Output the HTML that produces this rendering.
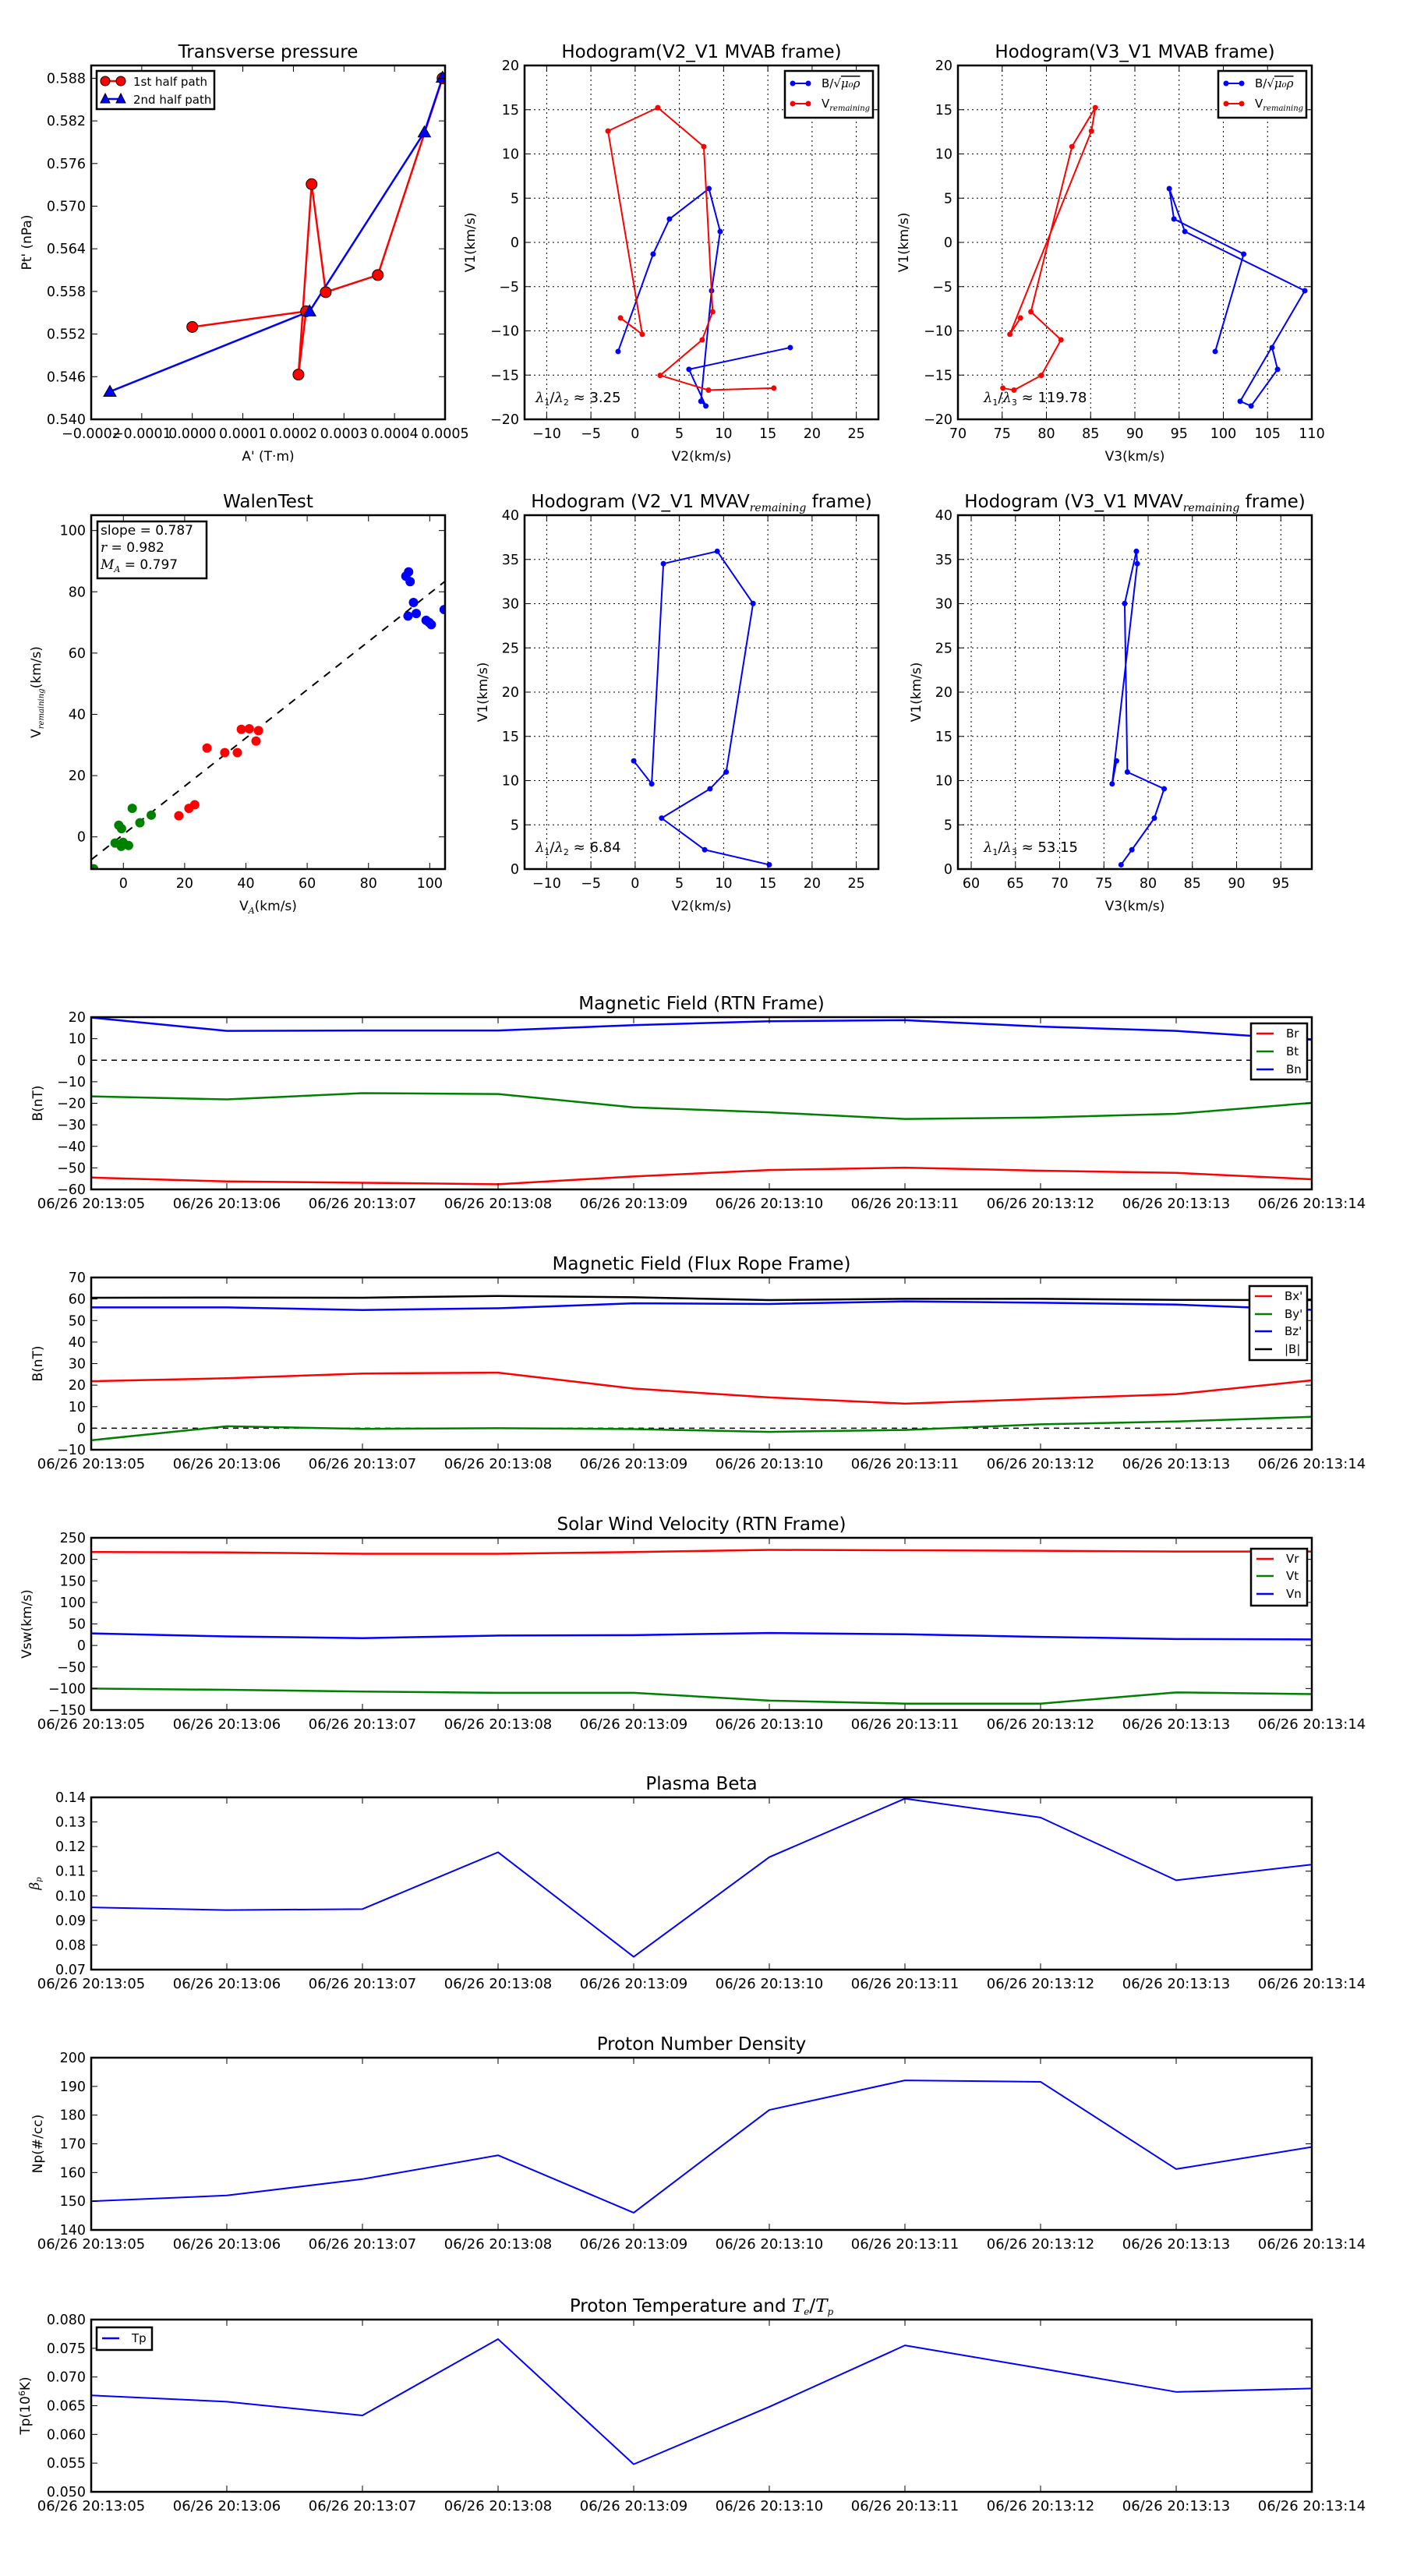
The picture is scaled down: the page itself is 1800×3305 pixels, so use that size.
<!DOCTYPE html>
<html><head><meta charset="utf-8"><style>
html,body{margin:0;padding:0;background:#fff;}
svg text{font-family:"DejaVu Sans","Liberation Sans",sans-serif;}
.m{font-family:"DejaVu Serif","Liberation Serif",serif;font-style:italic;}
</style></head>
<body>
<svg id="fig" xmlns="http://www.w3.org/2000/svg" width="1800" height="3300" viewBox="0 0 1800 3300">
<rect x="0" y="0" width="1800" height="3300" fill="#fff"/>
</svg>
<script>
// ---------- data ----------
const tpRedX = [0.0000, 0.000225, 0.000210, 0.000236, 0.000264, 0.000367, 0.000495];
const tpRedY = [0.5530, 0.5552, 0.5463, 0.5731, 0.5579, 0.5603, 0.5880];
const tpBlueX = [-0.000163, 0.000232, 0.000459, 0.000495];
const tpBlueY = [0.5439, 0.5552, 0.5804, 0.5881];

const bV1 = [-12.33, -1.32, 2.64, 6.08, 1.23, -5.46, -17.96, -18.49, -14.35, -11.89];
const bV2 = [-1.93, 2.03, 3.88, 8.34, 9.61, 8.64, 7.43, 7.99, 6.08, 17.53];
const bV3 = [99.08, 102.3, 94.42, 93.89, 95.65, 109.21, 101.9, 103.14, 106.13, 105.51];
const rV1 = [-8.54, -10.39, 12.59, 15.23, 10.83, -7.84, -11.01, -15.03, -16.70, -16.47];
const rV2 = [-1.66, 0.80, -3.07, 2.56, 7.76, 8.76, 7.58, 2.83, 8.29, 15.68];
const rV3 = [77.07, 75.87, 85.09, 85.53, 82.89, 78.25, 81.65, 79.42, 76.34, 75.08];

const mV1 = [12.23, 9.63, 34.52, 35.92, 30.02, 10.97, 9.07, 5.76, 2.18, 0.49];
const mV2 = [-0.16, 1.87, 3.19, 9.28, 13.33, 10.29, 8.46, 2.99, 7.86, 15.16];
const mV3 = [76.43, 75.93, 78.77, 78.67, 77.35, 77.65, 81.81, 80.70, 78.16, 76.94];

const walGreenX = [-9.7, -2.7, -0.7, -0.1, 1.7, -1.5, -0.6, 5.4, 9.1, 2.9];
const walGreenY = [-10.4, -2.0, -3.1, -1.8, -2.8, 3.8, 2.7, 4.6, 7.1, 9.3];
const walRedX = [18.1, 21.4, 23.3, 27.3, 33.1, 37.2, 38.5, 41.1, 43.3, 44.1];
const walRedY = [6.9, 9.3, 10.5, 29.0, 27.5, 27.5, 35.1, 35.3, 31.3, 34.7];
const walBlueX = [92.2, 93.1, 93.6, 94.7, 92.9, 95.6, 98.8, 99.8, 100.5, 104.7];
const walBlueY = [85.1, 86.5, 83.3, 76.5, 72.1, 72.9, 70.7, 70.0, 69.3, 74.2];
const walSlope = 0.787;
const walIntercept = 0.8;

const timeLabels = ["06/26 20:13:05","06/26 20:13:06","06/26 20:13:07","06/26 20:13:08","06/26 20:13:09","06/26 20:13:10","06/26 20:13:11","06/26 20:13:12","06/26 20:13:13","06/26 20:13:14"];
const Br = [-54.5, -56.3, -56.9, -57.6, -54.0, -51.0, -49.9, -51.3, -52.3, -55.3];
const Bt = [-16.8, -18.2, -15.3, -15.7, -21.9, -24.2, -27.3, -26.6, -24.9, -19.8];
const Bn = [19.8, 13.6, 13.8, 13.8, 16.3, 18.1, 18.6, 15.6, 13.6, 9.5];
const Bx = [21.8, 23.2, 25.4, 25.8, 18.4, 14.3, 11.4, 13.6, 15.8, 22.2];
const By = [-5.6, 0.9, -0.3, 0.0, -0.4, -1.7, -0.8, 1.8, 3.1, 5.3];
const Bz = [56.1, 56.1, 54.9, 55.7, 58.0, 57.7, 58.9, 58.3, 57.4, 55.0];
const Bmag = [60.6, 60.7, 60.6, 61.4, 60.8, 59.5, 60.1, 60.1, 59.6, 59.5];
const Vr = [217, 216, 213, 213, 217, 222, 221, 220, 218, 218];
const Vt = [-100, -103, -107, -110, -110, -128, -135, -135, -109, -113];
const Vn = [28, 21, 17, 23, 24, 29, 26, 20, 15, 14];
const beta = [0.0953, 0.0942, 0.0946, 0.1177, 0.0752, 0.1157, 0.1395, 0.1318, 0.1063, 0.1127];
const Np = [150.0, 152.0, 157.7, 166.0, 146.0, 181.8, 192.1, 191.6, 161.2, 168.9];
const Tp = [0.0668, 0.0657, 0.0633, 0.0766, 0.0548, 0.0648, 0.0755, 0.0715, 0.0674, 0.0680];

// ---------- helpers ----------
const NS = "http://www.w3.org/2000/svg";
const fig = document.getElementById('fig');
let clipId = 0;
function mk(parent, tag, attrs, name) {
  const el = document.createElementNS(NS, tag);
  for (const k in attrs) el.setAttribute(k, attrs[k]);
  
  
  parent.appendChild(el);
  return el;
}
function txt(parent, x, y, html, size, anchor, name, extra) {
  const a = {x: x, y: y, 'font-size': size, 'text-anchor': anchor || 'start', fill: '#000'};
  if (extra) for (const k in extra) a[k] = extra[k];
  const t = mk(parent, 'text', a, name);
  t.innerHTML = html;
  return t;
}
function fmt(v, d) {
  const s = Math.abs(v).toFixed(d);
  return (v < 0 ? '\u2212' : '') + s;
}
function range(a, b, s) { const r = []; for (let v = a; v <= b + s * 1e-6; v += s) r.push(+v.toFixed(10)); return r; }

function panel(c) {
  const g = mk(fig, 'g', {}, c.name);
  const sx = v => c.x0 + (v - c.xr[0]) / (c.xr[1] - c.xr[0]) * c.w;
  const sy = v => c.y0 + c.h - (v - c.yr[0]) / (c.yr[1] - c.yr[0]) * c.h;
  const id = 'clip' + (clipId++);
  const cp = mk(g, 'clipPath', {id: id}, 'clip-region');
  mk(cp, 'rect', {x: c.x0, y: c.y0, width: c.w, height: c.h}, 'clip-rect');
  if (c.grid) {
    c.xticks.forEach(v => { const x = sx(v); if (x > c.x0 + 1 && x < c.x0 + c.w - 1) mk(g, 'line', {x1: x, x2: x, y1: c.y0, y2: c.y0 + c.h, stroke: '#000', 'stroke-width': 1, 'stroke-dasharray': '2,4'}, 'grid-line-x'); });
    c.yticks.forEach(v => { const y = sy(v); if (y > c.y0 + 1 && y < c.y0 + c.h - 1) mk(g, 'line', {x1: c.x0, x2: c.x0 + c.w, y1: y, y2: y, stroke: '#000', 'stroke-width': 1, 'stroke-dasharray': '2,4'}, 'grid-line-y'); });
  }
  const plot = mk(g, 'g', {'clip-path': 'url(#' + id + ')'}, 'plot-area');
  const xs = c.xTickSize || 17.5;
  c.xticks.forEach((v, i) => {
    const x = sx(v);
    mk(g, 'line', {x1: x, x2: x, y1: c.y0 + c.h, y2: c.y0 + c.h - 8, stroke: '#000', 'stroke-width': 1}, 'x-tick');
    mk(g, 'line', {x1: x, x2: x, y1: c.y0, y2: c.y0 + 8, stroke: '#000', 'stroke-width': 1}, 'x-tick-top');
    txt(g, x, c.y0 + c.h + 24, c.xlabels[i], xs, 'middle', 'x-tick-label');
  });
  c.yticks.forEach((v, i) => {
    const y = sy(v);
    mk(g, 'line', {x1: c.x0, x2: c.x0 + 8, y1: y, y2: y, stroke: '#000', 'stroke-width': 1}, 'y-tick');
    mk(g, 'line', {x1: c.x0 + c.w, x2: c.x0 + c.w - 8, y1: y, y2: y, stroke: '#000', 'stroke-width': 1}, 'y-tick-right');
    txt(g, c.x0 - 7, y + 6, c.ylabels[i], 17.5, 'end', 'y-tick-label');
  });
  txt(g, c.x0 + c.w / 2, c.y0 - 10, c.title, 23, 'middle', 'chart-title');
  if (c.xlabel) txt(g, c.x0 + c.w / 2, c.y0 + c.h + (c.xlabOff || 53), c.xlabel, 17, 'middle', 'x-axis-title');
  const yx = c.ylabX;
  txt(g, yx, c.y0 + c.h / 2, c.ylabel, 17, 'middle', 'y-axis-title', {transform: 'rotate(-90 ' + yx + ' ' + (c.y0 + c.h / 2) + ')'});
  return {g: g, plot: plot, sx: sx, sy: sy, c: c};
}
function frame(p) {
  const c = p.c;
  mk(p.g, 'rect', {x: c.x0, y: c.y0, width: c.w, height: c.h, fill: 'none', stroke: '#000', 'stroke-width': 2.5}, 'axes-frame');
}
function line(p, xs, ys, color, width, name, dash) {
  const pts = xs.map((x, i) => p.sx(x).toFixed(2) + ',' + p.sy(ys[i]).toFixed(2)).join(' ');
  const a = {points: pts, fill: 'none', stroke: color, 'stroke-width': width, 'stroke-linejoin': 'round'};
  if (dash) a['stroke-dasharray'] = dash;
  return mk(p.plot, 'polyline', a, name);
}
function dots(p, xs, ys, color, r, name, edge) {
  xs.forEach((x, i) => {
    const a = {cx: p.sx(x), cy: p.sy(ys[i]), r: r, fill: color};
    if (edge) { a.stroke = '#000'; a['stroke-width'] = 1; }
    mk(p.plot, 'circle', a, name);
  });
}
function tris(p, xs, ys, color, s, name) {
  xs.forEach((x, i) => {
    const cx = p.sx(x), cy = p.sy(ys[i]);
    mk(p.plot, 'polygon', {points: (cx) + ',' + (cy - s) + ' ' + (cx - s) + ',' + (cy + s * 0.75) + ' ' + (cx + s) + ',' + (cy + s * 0.75), fill: color, stroke: '#000', 'stroke-width': 1}, name);
  });
}
function legendBox(parent, x, y, w, h, name) {
  return mk(parent, 'rect', {x: x, y: y, width: w, height: h, fill: '#fff', stroke: '#000', 'stroke-width': 2.5}, name);
}
function tsLegend(p, x, y, w, h, items, rowY, lx, tx) {
  const lg = mk(p.g, 'g', {}, 'legend');
  legendBox(lg, x, y, w, h, 'legend-box');
  items.forEach((it, i) => {
    mk(lg, 'line', {x1: lx, x2: lx + 22, y1: rowY[i], y2: rowY[i], stroke: it[1], 'stroke-width': 2.5}, 'legend-line');
    txt(lg, tx, rowY[i] + 5, it[0], 15, 'start', 'legend-entry');
  });
}

// ---------- Transverse pressure ----------
const tpXt = range(-0.0002, 0.0005, 0.0001);
const tpYt = range(0.540, 0.588, 0.006);
const p1 = panel({name: 'transverse-pressure-chart', x0: 117, y0: 84, w: 454, h: 454, xr: [-0.0002, 0.0005], yr: [0.540, 0.5898],
  xticks: tpXt, xlabels: tpXt.map(v => fmt(v, 4)), yticks: tpYt, ylabels: tpYt.map(v => v.toFixed(3)),
  title: 'Transverse pressure', xlabel: "A' (T\u00b7m)", ylabel: "Pt' (nPa)", ylabX: 40});
line(p1, tpRedX, tpRedY, '#ff0000', 2.5, 'first-half-path-line');
line(p1, tpBlueX, tpBlueY, '#0000ff', 2.5, 'second-half-path-line');
dots(p1, tpRedX, tpRedY, '#ff0000', 7, 'first-half-marker', true);
tris(p1, tpBlueX, tpBlueY, '#0000ff', 8, 'second-half-marker');
frame(p1);
{
  const lg = mk(p1.g, 'g', {}, 'legend');
  legendBox(lg, 124, 91, 151, 49, 'legend-box');
  mk(lg, 'line', {x1: 135, x2: 155, y1: 104, y2: 104, stroke: '#ff0000', 'stroke-width': 2.5}, 'legend-line');
  mk(lg, 'circle', {cx: 135, cy: 104, r: 6, fill: '#ff0000', stroke: '#000'}, 'legend-marker');
  mk(lg, 'circle', {cx: 155, cy: 104, r: 6, fill: '#ff0000', stroke: '#000'}, 'legend-marker');
  txt(lg, 171, 110, '1st half path', 15, 'start', 'legend-entry');
  mk(lg, 'line', {x1: 135, x2: 155, y1: 127, y2: 127, stroke: '#0000ff', 'stroke-width': 2.5}, 'legend-line');
  mk(lg, 'polygon', {points: '135,120 129,132 141,132', fill: '#0000ff', stroke: '#000'}, 'legend-marker');
  mk(lg, 'polygon', {points: '155,120 149,132 161,132', fill: '#0000ff', stroke: '#000'}, 'legend-marker');
  txt(lg, 171, 133, '2nd half path', 15, 'start', 'legend-entry');
}

// ---------- Hodograms ----------
const v2t = range(-10, 25, 5);
const v1t = range(-20, 20, 5);
const v3t = range(70, 110, 5);
const lamHTML = (a, b, v) => '<tspan class="m">\u03bb</tspan><tspan font-size="11" dy="4">1</tspan><tspan dy="-4">/</tspan><tspan class="m">\u03bb</tspan><tspan font-size="11" dy="4">' + b + '</tspan><tspan dy="-4"> \u2248 ' + v + '</tspan>';
const bHTML = 'B/\u221a<tspan class="m" text-decoration="overline">\u03bc\u2080\u03c1</tspan>';
const vHTML = 'V<tspan class="m" font-size="10" dy="4">remaining</tspan>';
function hodoLegend(p, x) {
  const lg = mk(p.g, 'g', {}, 'legend');
  legendBox(lg, x, 91, 113, 60, 'legend-box');
  [['#0000ff', 107, bHTML], ['#ff0000', 133, vHTML]].forEach(r => {
    mk(lg, 'line', {x1: x + 10, x2: x + 30, y1: r[1], y2: r[1], stroke: r[0], 'stroke-width': 2}, 'legend-line');
    mk(lg, 'circle', {cx: x + 10, cy: r[1], r: 3.5, fill: r[0]}, 'legend-marker');
    mk(lg, 'circle', {cx: x + 30, cy: r[1], r: 3.5, fill: r[0]}, 'legend-marker');
    txt(lg, x + 47, r[1] + 5, r[2], 15, 'start', 'legend-entry');
  });
}
const p2 = panel({name: 'hodogram-v2-v1-mvab', x0: 673, y0: 84, w: 454, h: 454, xr: [-12.5, 27.5], yr: [-20, 20], grid: true,
  xticks: v2t, xlabels: v2t.map(v => fmt(v, 0)), yticks: v1t, ylabels: v1t.map(v => fmt(v, 0)),
  title: 'Hodogram(V2_V1 MVAB frame)', xlabel: 'V2(km/s)', ylabel: 'V1(km/s)', ylabX: 609});
line(p2, bV2, bV1, '#0000ff', 2, 'b-field-hodogram-line');
dots(p2, bV2, bV1, '#0000ff', 3.5, 'b-field-point');
line(p2, rV2, rV1, '#ff0000', 2, 'v-remaining-hodogram-line');
dots(p2, rV2, rV1, '#ff0000', 3.5, 'v-remaining-point');
frame(p2);
hodoLegend(p2, 1007);
txt(p2.g, 687, 516, lamHTML(1, 2, '3.25'), 18, 'start', 'eigenvalue-ratio-annotation');

const p3 = panel({name: 'hodogram-v3-v1-mvab', x0: 1229, y0: 84, w: 454, h: 454, xr: [70, 110], yr: [-20, 20], grid: true,
  xticks: v3t, xlabels: v3t.map(v => fmt(v, 0)), yticks: v1t, ylabels: v1t.map(v => fmt(v, 0)),
  title: 'Hodogram(V3_V1 MVAB frame)', xlabel: 'V3(km/s)', ylabel: 'V1(km/s)', ylabX: 1165});
line(p3, bV3, bV1, '#0000ff', 2, 'b-field-hodogram-line');
dots(p3, bV3, bV1, '#0000ff', 3.5, 'b-field-point');
line(p3, rV3, rV1, '#ff0000', 2, 'v-remaining-hodogram-line');
dots(p3, rV3, rV1, '#ff0000', 3.5, 'v-remaining-point');
frame(p3);
hodoLegend(p3, 1563);
txt(p3.g, 1262, 516, lamHTML(1, 3, '119.78'), 18, 'start', 'eigenvalue-ratio-annotation');

// ---------- Walen test ----------
const wt = range(0, 100, 20);
const p4 = panel({name: 'walen-test-chart', x0: 117, y0: 661, w: 454, h: 454, xr: [-10.5, 105], yr: [-10.5, 105],
  xticks: wt, xlabels: wt.map(v => fmt(v, 0)), yticks: wt, ylabels: wt.map(v => fmt(v, 0)),
  title: 'WalenTest', xlabel: 'V<tspan class="m" font-size="11" dy="4">A</tspan><tspan dy="-4">(km/s)</tspan>',
  ylabel: 'V<tspan class="m" font-size="10" dy="4">remaining</tspan><tspan dy="-4">(km/s)</tspan>', ylabX: 52});
line(p4, [-10.5, 105], [walIntercept + walSlope * -10.5, walIntercept + walSlope * 105], '#000', 2, 'fit-line', '10,9');
dots(p4, walGreenX, walGreenY, '#008000', 6, 'walen-point-green');
dots(p4, walRedX, walRedY, '#ff0000', 6, 'walen-point-red');
dots(p4, walBlueX, walBlueY, '#0000ff', 6, 'walen-point-blue');
frame(p4);
{
  const lg = mk(p4.g, 'g', {}, 'stats-box');
  legendBox(lg, 125, 669, 140, 73, 'stats-box-frame');
  txt(lg, 129, 686, 'slope = 0.787', 17, 'start', 'slope-text');
  txt(lg, 129, 708, '<tspan class="m">r</tspan> = 0.982', 17, 'start', 'r-text');
  txt(lg, 129, 730, '<tspan class="m">M</tspan><tspan class="m" font-size="11" dy="4">A</tspan><tspan dy="-4"> = 0.797</tspan>', 17, 'start', 'alfven-mach-text');
}

// ---------- MVAV hodograms ----------
const v1t2 = range(0, 40, 5);
const v3t2 = range(60, 95, 5);
const p5 = panel({name: 'hodogram-v2-v1-mvav', x0: 673, y0: 661, w: 454, h: 454, xr: [-12.5, 27.5], yr: [0, 40], grid: true,
  xticks: v2t, xlabels: v2t.map(v => fmt(v, 0)), yticks: v1t2, ylabels: v1t2.map(v => fmt(v, 0)),
  title: 'Hodogram (V2_V1 MVAV<tspan class="m" font-size="14" dy="5">remaining</tspan><tspan dy="-5"> frame)</tspan>', xlabel: 'V2(km/s)', ylabel: 'V1(km/s)', ylabX: 625});
line(p5, mV2, mV1, '#0000ff', 2, 'hodogram-line');
dots(p5, mV2, mV1, '#0000ff', 3.5, 'hodogram-point');
frame(p5);
txt(p5.g, 687, 1093, lamHTML(1, 2, '6.84'), 18, 'start', 'eigenvalue-ratio-annotation');

const p6 = panel({name: 'hodogram-v3-v1-mvav', x0: 1229, y0: 661, w: 454, h: 454, xr: [58.5, 98.5], yr: [0, 40], grid: true,
  xticks: v3t2, xlabels: v3t2.map(v => fmt(v, 0)), yticks: v1t2, ylabels: v1t2.map(v => fmt(v, 0)),
  title: 'Hodogram (V3_V1 MVAV<tspan class="m" font-size="14" dy="5">remaining</tspan><tspan dy="-5"> frame)</tspan>', xlabel: 'V3(km/s)', ylabel: 'V1(km/s)', ylabX: 1181});
line(p6, mV3, mV1, '#0000ff', 2, 'hodogram-line');
dots(p6, mV3, mV1, '#0000ff', 3.5, 'hodogram-point');
frame(p6);
txt(p6.g, 1262, 1093, lamHTML(1, 3, '53.15'), 18, 'start', 'eigenvalue-ratio-annotation');

// ---------- Time series ----------
const tIdx = timeLabels.map((_, i) => i);
function ts(name, y0, yr, yt, yl, title, ylabel, ylabX) {
  return panel({name: name, x0: 117, y0: y0, w: 1566, h: 221, xr: [0, 9], yr: yr, xTickSize: 18,
    xticks: tIdx, xlabels: timeLabels, yticks: yt, ylabels: yl, title: title, ylabel: ylabel, ylabX: ylabX});
}
const rtnT = range(-60, 20, 10);
const q1 = ts('magnetic-field-rtn-chart', 1305, [-60, 20], rtnT, rtnT.map(v => fmt(v, 0)), 'Magnetic Field (RTN Frame)', 'B(nT)', 54);
line(q1, [0, 9], [0, 0], '#000', 1.5, 'zero-line', '7,6');
line(q1, tIdx, Br, '#ff0000', 2.5, 'br-line');
line(q1, tIdx, Bt, '#008000', 2.5, 'bt-line');
line(q1, tIdx, Bn, '#0000ff', 2.5, 'bn-line');
frame(q1);
tsLegend(q1, 1605, 1313, 72, 72, [['Br', '#ff0000'], ['Bt', '#008000'], ['Bn', '#0000ff']], [1326, 1349, 1372], 1612, 1650);

const frT = range(-10, 70, 10);
const q2 = ts('magnetic-field-flux-rope-chart', 1639, [-10, 70], frT, frT.map(v => fmt(v, 0)), 'Magnetic Field (Flux Rope Frame)', 'B(nT)', 54);
line(q2, [0, 9], [0, 0], '#000', 1.5, 'zero-line', '7,6');
line(q2, tIdx, Bx, '#ff0000', 2.5, 'bx-line');
line(q2, tIdx, By, '#008000', 2.5, 'by-line');
line(q2, tIdx, Bz, '#0000ff', 2.5, 'bz-line');
line(q2, tIdx, Bmag, '#000000', 2.5, 'b-magnitude-line');
frame(q2);
tsLegend(q2, 1603, 1650, 74, 95, [["Bx'", '#ff0000'], ["By'", '#008000'], ["Bz'", '#0000ff'], ['|B|', '#000000']], [1663, 1686, 1708, 1731], 1610, 1648);

const vT = range(-150, 250, 50);
const q3 = ts('solar-wind-velocity-chart', 1973, [-150, 250], vT, vT.map(v => fmt(v, 0)), 'Solar Wind Velocity (RTN Frame)', 'Vsw(km/s)', 40);
line(q3, tIdx, Vr, '#ff0000', 2.5, 'vr-line');
line(q3, tIdx, Vt, '#008000', 2.5, 'vt-line');
line(q3, tIdx, Vn, '#0000ff', 2.5, 'vn-line');
frame(q3);
tsLegend(q3, 1605, 1987, 72, 73, [['Vr', '#ff0000'], ['Vt', '#008000'], ['Vn', '#0000ff']], [2000, 2022, 2045], 1612, 1650);

const bT = range(0.07, 0.14, 0.01);
const q4 = ts('plasma-beta-chart', 2306, [0.07, 0.14], bT, bT.map(v => v.toFixed(2)), 'Plasma Beta', '<tspan class="m">\u03b2</tspan><tspan class="m" font-size="10" dy="3">p</tspan>', 50);
line(q4, tIdx, beta, '#0000ff', 2, 'beta-line');
frame(q4);

const nT = range(140, 200, 10);
const q5 = ts('proton-density-chart', 2640, [140, 200], nT, nT.map(v => fmt(v, 0)), 'Proton Number Density', 'Np(#/cc)', 54);
line(q5, tIdx, Np, '#0000ff', 2, 'density-line');
frame(q5);

const tT = range(0.050, 0.080, 0.005);
const q6 = ts('proton-temperature-chart', 2976, [0.050, 0.080], tT, tT.map(v => v.toFixed(3)), 'Proton Temperature and <tspan class="m">T</tspan><tspan class="m" font-size="12" dy="4">e</tspan><tspan dy="-4">/</tspan><tspan class="m">T</tspan><tspan class="m" font-size="12" dy="4">p</tspan>', 'Tp(10<tspan font-size="11" dy="-6">6</tspan><tspan dy="6">K)</tspan>', 38);
line(q6, tIdx, Tp, '#0000ff', 2, 'temperature-line');
frame(q6);
tsLegend(q6, 124, 2986, 71, 29, [['Tp', '#0000ff']], [3000], 131, 169);
</script>
</body></html>
